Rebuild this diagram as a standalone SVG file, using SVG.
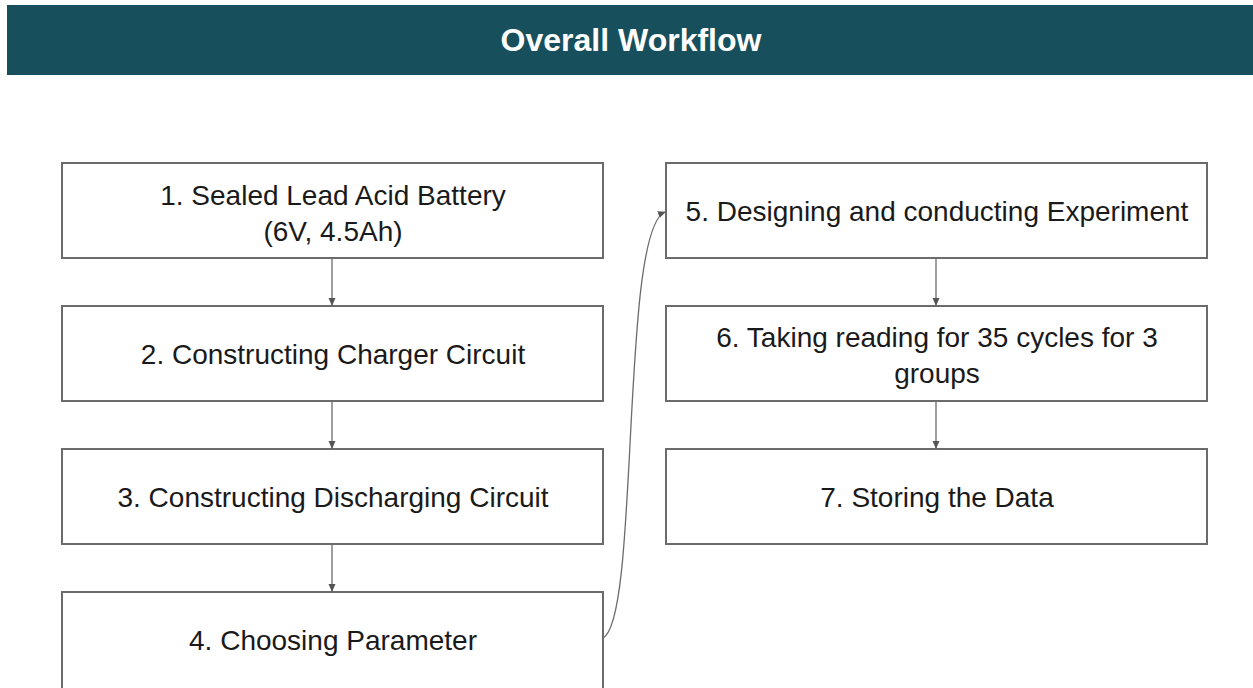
<svg xmlns="http://www.w3.org/2000/svg" width="1253" height="688" viewBox="0 0 1253 688">
<defs>
<style>
.box{fill:#fff;stroke:#6b6b6b;stroke-width:2}
.t{font-family:"Liberation Sans",Arial,sans-serif;font-size:28px;fill:#1a1a1a;text-anchor:middle}
.c{fill:none;stroke:#6b6b6b;stroke-width:1.3}
</style>
<marker id="ah" markerWidth="8" markerHeight="8" refX="7" refY="4" orient="auto" markerUnits="userSpaceOnUse">
<path d="M0,0.5 L8,4 L0,7.5 z" fill="#555"/>
</marker>
</defs>
<rect width="1253" height="688" fill="#fff"/>
<g id="header">
<rect x="7" y="5" width="1246" height="70" fill="#184f5c"/>
<text x="631" y="51" font-family="Liberation Sans,Arial,sans-serif" font-size="32" font-weight="bold" fill="#fff" text-anchor="middle">Overall Workflow</text>
</g>
<g id="n1"><rect class="box" x="62" y="163" width="541" height="95"/><text class="t" x="333" y="205">1. Sealed Lead Acid Battery</text><text class="t" x="333" y="241">(6V, 4.5Ah)</text></g>
<g id="n2"><rect class="box" x="62" y="306" width="541" height="95"/><text class="t" x="333" y="364">2. Constructing Charger Circuit</text></g>
<g id="n3"><rect class="box" x="62" y="449" width="541" height="95"/><text class="t" x="333" y="507">3. Constructing Discharging Circuit</text></g>
<g id="n4"><rect class="box" x="62" y="592" width="541" height="100"/><text class="t" x="333" y="650">4. Choosing Parameter</text></g>
<g id="n5"><rect class="box" x="666" y="163" width="541" height="95"/><text class="t" x="937" y="221">5. Designing and conducting Experiment</text></g>
<g id="n6"><rect class="box" x="666" y="306" width="541" height="95"/><text class="t" x="937" y="347">6. Taking reading for 35 cycles for 3</text><text class="t" x="937" y="383">groups</text></g>
<g id="n7"><rect class="box" x="666" y="449" width="541" height="95"/><text class="t" x="937" y="507">7. Storing the Data</text></g>
<g id="connectors">
<line class="c" x1="332" y1="258" x2="332" y2="305" marker-end="url(#ah)"/>
<line class="c" x1="332" y1="401" x2="332" y2="448" marker-end="url(#ah)"/>
<line class="c" x1="332" y1="544" x2="332" y2="591" marker-end="url(#ah)"/>
<line class="c" x1="936" y1="258" x2="936" y2="305" marker-end="url(#ah)"/>
<line class="c" x1="936" y1="401" x2="936" y2="448" marker-end="url(#ah)"/>
<path class="c" d="M603,638 C640,620 620,230 665,212" marker-end="url(#ah)"/>
</g>
</svg>
